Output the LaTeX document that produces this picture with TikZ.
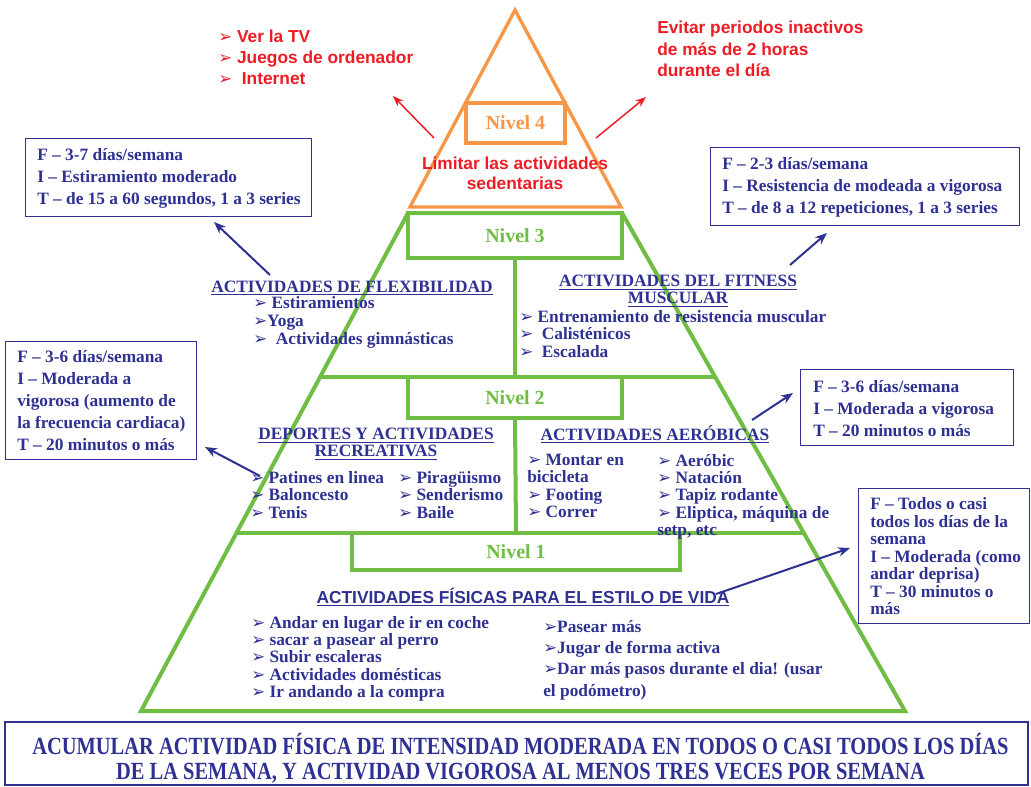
\documentclass[tikz,border=0pt]{standalone}
\usepackage{fontspec}
\setmainfont{Liberation Serif}
\newfontfamily\arialf{Liberation Sans}
\newfontfamily\dejavu{DejaVu Sans}
\newfontfamily\condf[FakeStretch=0.83]{Liberation Serif}
\usetikzlibrary{arrows.meta,calc}
\definecolor{navy}{RGB}{46,49,146}
\definecolor{pgreen}{RGB}{112,189,68}
\definecolor{porange}{RGB}{247,150,70}
\definecolor{pred}{RGB}{237,28,36}
\newcommand\blt{{\dejavu\fontsize{12.5}{12.5}\selectfont\char"27A2}}
\begin{document}
\begin{tikzpicture}[x=0.75pt,y=-0.75pt,
  greenline/.style={draw=pgreen,line width=3pt},
  greenbox/.style={draw=pgreen,line width=3pt,inner sep=0pt,text=pgreen,font=\bfseries\fontsize{15}{15}\selectfont},
  orangeline/.style={draw=porange,line width=2.5pt},
  navytxt/.style={text=navy,inner sep=0pt,align=left,font=\bfseries\fontsize{13}{#1}\selectfont},
  navytxt/.default=16.5,
  navyhead/.style={text=navy,inner sep=0pt,align=center,font=\bfseries\fontsize{13}{12.75}\selectfont},
  redtxt/.style={text=pred,inner sep=0pt,font=\arialf\bfseries\fontsize{13}{#1}\selectfont},
  redtxt/.default=15.75,
  infobox/.style={draw=navy,line width=1pt,inner sep=0pt,anchor=north west},
  navyarrow/.style={draw=navy,line width=1.5pt,-{Stealth[length=9pt,width=7pt]}},
  redarrow/.style={draw=pred,line width=1.1pt,-{Stealth[length=8pt,width=6pt]}}
]
\useasboundingbox (0,0) rectangle (1031,786);

% ---------- orange top ----------
\coordinate (oA) at (515,10);
\coordinate (oL) at (410,207);
\coordinate (oR) at (621,207);
\draw[orangeline] (oA) -- (oL) -- (oR) -- cycle;
\node[draw=porange,line width=2.5pt,minimum width=74.25pt,minimum height=30pt,inner sep=0pt,
      text=porange,font=\bfseries\fontsize{15}{15}\selectfont] (n4) at (515.5,123) {Nivel 4};
\node[redtxt=15,align=center] (lim) at (515,173) {Limitar las actividades\\sedentarias};

\node[redtxt,align=left,anchor=north west] (redlist) at (218,30)
  {\blt\ Ver la TV\\\blt\ Juegos de ordenador\\\blt\ \ Internet};
\node[redtxt=16,align=left,anchor=north west] (evitar) at (657,21)
  {Evitar periodos inactivos\\de más de 2 horas\\durante el día};

\coordinate (rla) at (434,138);
\coordinate (rlb) at (393,96);
\coordinate (rra) at (596,138);
\coordinate (rrb) at (646,97);
\draw[redarrow] (rla) -- (rlb);
\draw[redarrow] (rra) -- (rrb);

% ---------- green pyramid ----------
\coordinate (TL) at (408,213);
\coordinate (TR) at (622,213);
\coordinate (BL) at (141,711);
\coordinate (BR) at (905,711);
\draw[greenline] (TL) -- (TR) -- (BR) -- (BL) -- cycle;
\draw[greenline] ($(TL)!0.3293!(BL)$) -- ($(TR)!0.3293!(BR)$);
\draw[greenline] ($(TL)!0.6426!(BL)$) -- ($(TR)!0.6426!(BR)$);
\node[greenbox,minimum width=160.5pt,minimum height=33.75pt] (n3) at (515,235.5) {Nivel 3};
\node[greenbox,minimum width=160.5pt,minimum height=30.75pt] (n2) at (515,397.5) {Nivel 2};
\node[greenbox,minimum width=246pt,minimum height=27.75pt] (n1) at (516,551.5) {Nivel 1};
\draw[greenline] (n3.south) -- (n2.north);
\draw[greenline] (n2.south) -- (n1.north);

% ---------- level 3 ----------
\node[navyhead,anchor=base] (hflex) at (352,292) {\underline{ACTIVIDADES DE FLEXIBILIDAD}};
\node[navytxt=13.5,anchor=north west] (lflex) at (253,296)
  {\blt\ Estiramientos\\\blt Yoga\\\blt\ \ Actividades gimnásticas};
\node[navyhead,anchor=north] (hfit) at (678,275) {\underline{ACTIVIDADES DEL FITNESS}\\\underline{MUSCULAR}};
\node[navytxt=13.1,anchor=north west] (lfit) at (519,310)
  {\blt\ Entrenamiento de resistencia muscular\\\blt\ \ Calisténicos\\\blt\ \ Escalada};

% ---------- level 2 ----------
\node[navyhead,anchor=north] (hdep) at (376,428) {\underline{DEPORTES Y ACTIVIDADES}\\\underline{RECREATIVAS}};
\node[navytxt=13.1,anchor=north west] (ldep1) at (250,471)
  {\blt\ Patines en linea\\\blt\ Baloncesto\\\blt\ Tenis};
\node[navytxt=13.1,anchor=north west] (ldep2) at (398,471)
  {\blt\ Piragüismo\\\blt\ Senderismo\\\blt\ Baile};
\node[navyhead,anchor=base] (haer) at (655,440) {\underline{ACTIVIDADES AERÓBICAS}};
\node[navytxt=12.95,anchor=north west] (laer1) at (527,454)
  {\blt\ Montar en\\bicicleta\\\blt\ Footing\\\blt\ Correr};
\node[navytxt=12.95,anchor=north west] (laer2) at (657,454)
  {\blt\ Aeróbic\\\blt\ Natación\\\blt\ Tapiz rodante\\\blt\ Eliptica, máquina de\\setp, etc};

% ---------- level 1 ----------
\node[text=navy,inner sep=0pt,anchor=base,font=\arialf\bfseries\fontsize{13}{13}\selectfont] (hvida) at (523,603)
  {\underline{ACTIVIDADES FÍSICAS PARA EL ESTILO DE VIDA}};
\node[navytxt=12.95,anchor=north west] (lvida1) at (251,616)
  {\blt\ Andar en lugar de ir en coche\\\blt\ sacar a pasear al perro\\\blt\ Subir escaleras\\\blt\ Actividades domésticas\\\blt\ Ir andando a la compra};
\node[navytxt=16,anchor=north west] (lvida2) at (543,620)
  {\blt Pasear más\\\blt Jugar de forma activa\\\blt Dar más pasos durante el dia! (usar\\el podómetro)};

% ---------- info boxes ----------
\node[infobox,minimum width=214.5pt,minimum height=58.5pt] (b1) at (25,138) {};
\node[navytxt,anchor=west] (t1) at ($(b1.west)+(12,1)$)
  {F – 3-7 días/semana\\I – Estiramiento moderado\\T – de 15 a 60 segundos, 1 a 3 series};
\node[infobox,minimum width=231.75pt,minimum height=58.5pt] (b2) at (710,147) {};
\node[navytxt,anchor=west] (t2) at ($(b2.west)+(12,1)$)
  {F – 2-3 días/semana\\I – Resistencia de modeada a vigorosa\\T – de 8 a 12 repeticiones, 1 a 3 series};
\node[infobox,minimum width=143.25pt,minimum height=88.5pt] (b3) at (5,341) {};
\node[navytxt,anchor=west] (t3) at ($(b3.west)+(12,0)$)
  {F – 3-6 días/semana\\I – Moderada a\\vigorosa (aumento de\\la frecuencia cardiaca)\\T – 20 minutos o más};
\node[infobox,minimum width=159.75pt,minimum height=57pt] (b4) at (800,369) {};
\node[navytxt,anchor=west] (t4) at ($(b4.west)+(13,1)$)
  {F – 3-6 días/semana\\I – Moderada a vigorosa\\T – 20 minutos o más};
\node[infobox,minimum width=128.25pt,minimum height=101.25pt] (b5) at (858,488) {};
\node[navytxt=13.1,anchor=west] (t5) at ($(b5.west)+(12,0)$)
  {F – Todos o casi\\todos los días de la\\semana\\I – Moderada (como\\andar deprisa)\\T – 30 minutos o\\más};

% ---------- navy connectors ----------
\coordinate (a1s) at (270,275);  \coordinate (a1e) at (214,222);
\coordinate (a2s) at (790,265);  \coordinate (a2e) at (827,233);
\coordinate (a3s) at (260,476);  \coordinate (a3e) at (205,447);
\coordinate (a4s) at (752,420);  \coordinate (a4e) at (793,393);
\coordinate (a5s) at (716,594);  \coordinate (a5e) at (850,548);
\draw[navyarrow] (a1s) -- (a1e);
\draw[navyarrow] (a2s) -- (a2e);
\draw[navyarrow] (a3s) -- (a3e);
\draw[navyarrow] (a4s) -- (a4e);
\draw[navyarrow] (a5s) -- (a5e);

% ---------- bottom banner ----------
\node[draw=navy,line width=1pt,inner sep=0pt,minimum width=767.25pt,minimum height=47.25pt] (banner) at (516.5,753.5) {};
\node[text=navy,inner sep=0pt,align=center,font=\condf\bfseries\fontsize{18.5}{18.75}\selectfont] (bantxt) at (520.5,758.5)
  {ACUMULAR ACTIVIDAD FÍSICA DE INTENSIDAD MODERADA EN TODOS O CASI TODOS LOS DÍAS\\DE LA SEMANA, Y ACTIVIDAD VIGOROSA AL MENOS TRES VECES POR SEMANA};
\end{tikzpicture}
\end{document}
